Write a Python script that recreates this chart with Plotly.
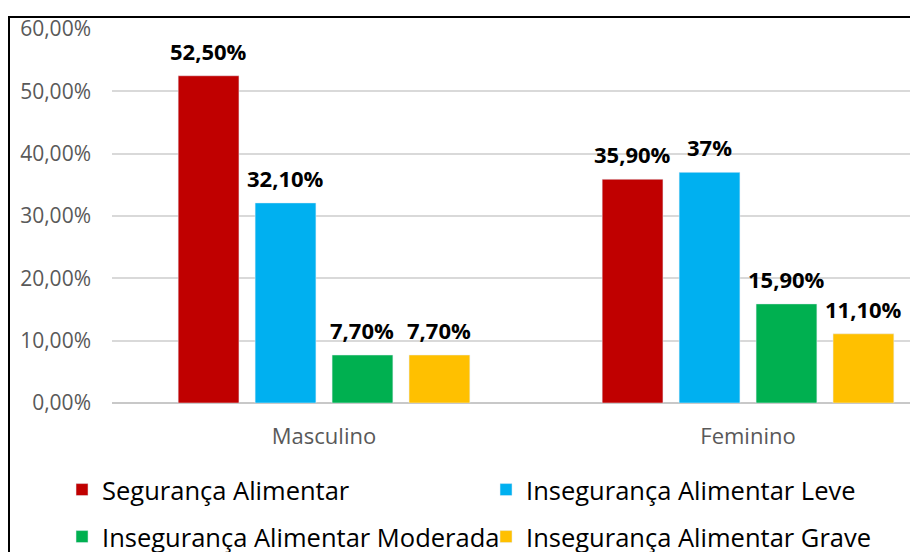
import plotly.graph_objects as go

categories = ["Masculino", "Feminino"]
series_names = ["Segurança Alimentar", "Insegurança Alimentar Leve",
                "Insegurança Alimentar Moderada", "Insegurança Alimentar Grave"]
series_values = [
    [52.5, 35.9],
    [32.1, 37.0],
    [7.7, 15.9],
    [7.7, 11.1],
]
series_labels = [
    ["52,50%", "35,90%"],
    ["32,10%", "37%"],
    ["7,70%", "15,90%"],
    ["7,70%", "11,10%"],
]
colors = ["#C00000", "#00B0F0", "#00B050", "#FFC000"]
tick_vals = [0, 10, 20, 30, 40, 50, 60]
tick_text = ["0,00%", "10,00%", "20,00%", "30,00%", "40,00%", "50,00%", "60,00%"]

FONT = "Open Sans"
bargap = 0.274
n = len(series_names)
legend_ids = ["legend", "legend2", "legend3", "legend4"]

fig = go.Figure()
for i, (name, vals) in enumerate(zip(series_names, series_values)):
    fig.add_trace(go.Bar(
        x=categories, y=vals, name=name, marker_color=colors[i],
        legend=legend_ids[i], showlegend=True,
    ))

annotations = []
slot = (1 - bargap) / n
for i in range(n):
    for j, v in enumerate(series_values[i]):
        annotations.append(dict(
            x=j + (i - (n - 1) / 2) * slot, y=v, xref="x", yref="y",
            text="<b>" + series_labels[i][j] + "</b>", showarrow=False,
            yshift=25, font=dict(family=FONT, size=22, color="#000000"),
        ))

leg_x = [-0.062, -0.062 + 424 / 806]
leg_y = [1 - 482 / 552, 1 - 529 / 552]
legends = {}
for i, lid in enumerate(legend_ids):
    legends[lid] = dict(
        orientation="h", x=leg_x[i % 2], xanchor="left",
        yref="container", y=leg_y[i // 2], yanchor="middle",
        font=dict(family=FONT, size=25.5, color="#000000"),
        bgcolor="rgba(0,0,0,0)", visible=True,
    )

fig.update_layout(
    width=918, height=552, showlegend=True,
    margin=dict(l=104, r=8, t=21, b=157, autoexpand=False),
    paper_bgcolor="white", plot_bgcolor="white",
    barmode="group", bargap=bargap, bargroupgap=0.21,
    annotations=annotations,
    shapes=[dict(type="rect", xref="paper", yref="paper",
                 x0=(9 - 112) / 806, x1=1.2, y0=-0.6, y1=(403 - 17) / 374,
                 line=dict(color="#000000", width=2), layer="above")],
    **legends,
)
fig.update_xaxes(
    range=[-0.5, -0.5 + 806 / 424], showgrid=False, showline=False,
    tickfont=dict(family=FONT, size=22, color="#595959"), ticklabelstandoff=18,
)
fig.update_yaxes(
    range=[0, 60], tickvals=tick_vals, ticktext=tick_text,
    showgrid=True, gridcolor="#D9D9D9", gridwidth=1.5,
    zeroline=True, zerolinecolor="#C8C8C8", zerolinewidth=1.5,
    tickfont=dict(family=FONT, size=21, color="#595959"), ticklabelstandoff=20,
)
fig.write_html("out.html")
